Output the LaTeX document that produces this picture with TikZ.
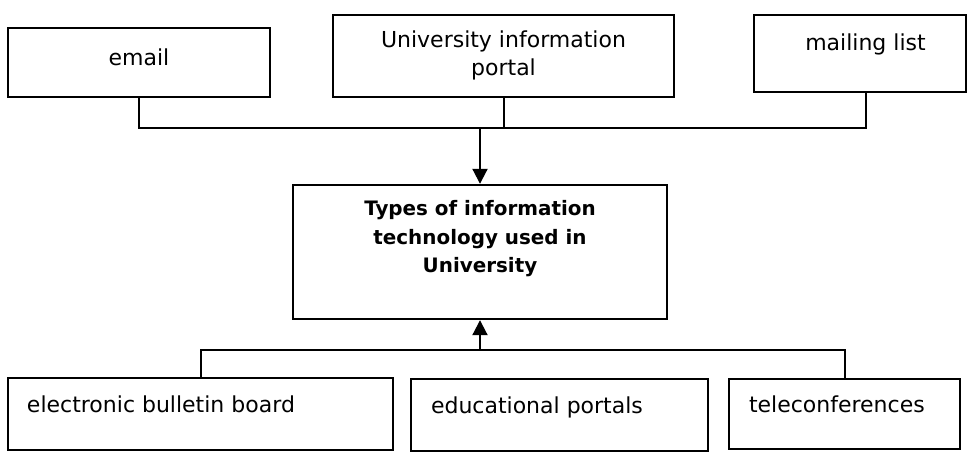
\documentclass[tikz,border=0pt]{standalone}
\usepackage{fontspec}
\setmainfont{DejaVu Sans}
\usetikzlibrary{arrows.meta,positioning}
\tikzset{
    block/.style={rectangle, draw, line width=2.4pt, inner sep=0pt},
    caption/.style={inner sep=0pt, font=\fontsize{22}{27.7}\selectfont},
    title/.style={inner sep=0pt, align=center, font=\fontsize{19.9}{28.5}\selectfont\bfseries},
    line/.style={draw, line width=2pt},
    arrow/.style={line, -{Triangle[width=15pt,length=15pt]}}
}

\begin{document}
\begin{tikzpicture}[x=1pt, y=-1pt]
    \useasboundingbox (0,0) rectangle (967,452);

    % Top row
    \node [block, minimum width=262pt, minimum height=69pt] (email) at (139,62.5) {};
    \node [block, minimum width=341pt, minimum height=82pt] (portal) at (503.5,56) {};
    \node [block, minimum width=212pt, minimum height=77pt] (mailing) at (860,53.5) {};

    % Central block
    \node [block, minimum width=374pt, minimum height=134pt] (types) at (480,252) {};

    % Bottom row
    \node [block, minimum width=385pt, minimum height=72pt] (board) at (200.5,414) {};
    \node [block, minimum width=297pt, minimum height=72pt] (edu) at (559.5,415) {};
    \node [block, minimum width=231pt, minimum height=70pt] (tele) at (844.5,414) {};

    % Texts
    \node [caption, anchor=base] at ([shift={(0,39)}]email.north) {email};
    \node [caption, anchor=base, align=center] at ([shift={(0,61.5)}]portal.north) {University information\\portal};
    \node [caption, anchor=base] at ([shift={(5.5,37)}]mailing.north) {mailing list};
    \node [title, anchor=base] at ([shift={(0,89)}]types.north) {Types of information\\technology used in\\University};
    \node [caption, anchor=base west] at ([shift={(20,36)}]board.north west) {electronic bulletin board};
    \node [caption, anchor=base west] at ([shift={(21,36)}]edu.north west) {educational portals};
    \node [caption, anchor=base west] at ([shift={(21,35)}]tele.north west) {teleconferences};

    % Connections
    \coordinate (topbus) at (480,128);
    \coordinate (botbus) at (480,350);
    \draw [line] (email.south) |- ([xshift=6pt]mailing.south |- topbus) -- ([xshift=6pt]mailing.south);
    \draw [line] (portal.south) -- (portal.south |- topbus);
    \draw [arrow] (topbus) -- (types.north);
    \draw [line] (board.north) |- (tele.north |- botbus) -- (tele.north);
    \draw [arrow] (botbus) -- (types.south);
\end{tikzpicture}
\end{document}
